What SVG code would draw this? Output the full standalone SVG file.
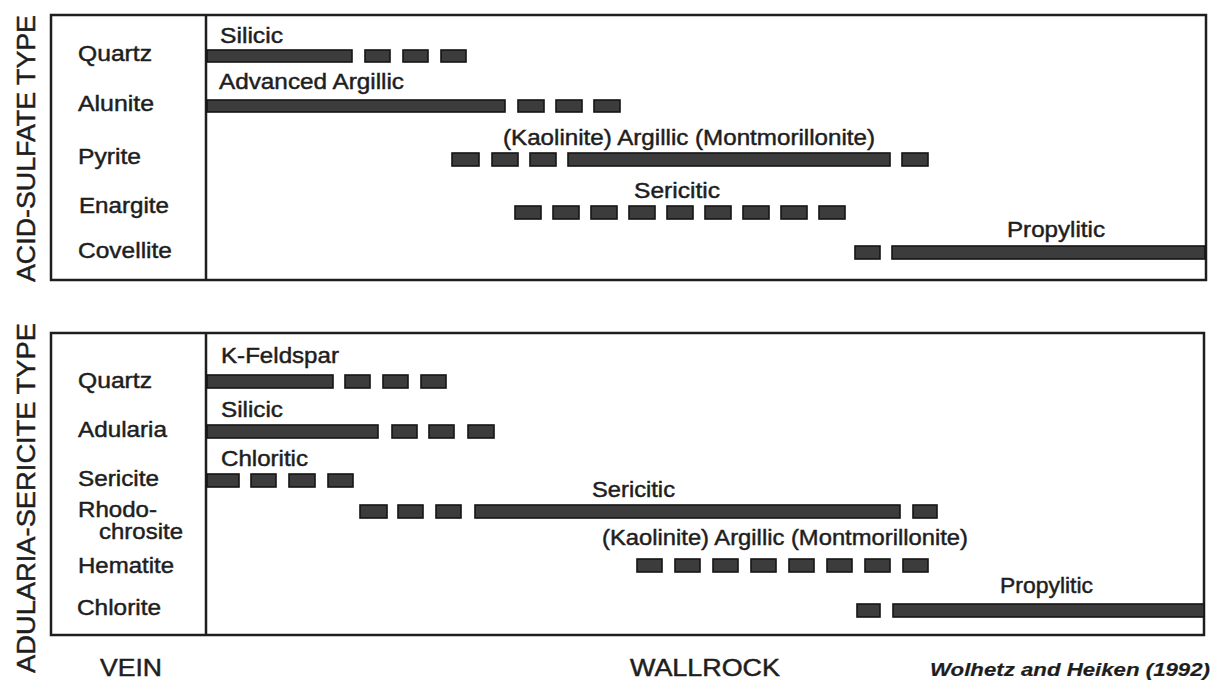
<svg xmlns="http://www.w3.org/2000/svg" width="1213" height="680" viewBox="0 0 1213 680">
<style>
  text{font-family:"Liberation Sans",Arial,sans-serif;fill:#1e1e1e;stroke:#1e1e1e;stroke-width:0.45;}
  .lab{font-size:21.5px;}
  .ax{font-size:25px;}
  .foot{font-size:23px;}
  .cite{font-size:19px;font-weight:bold;font-style:italic;stroke-width:0.2;}
  .frame{fill:none;stroke:#1e1e1e;stroke-width:2.5;}
  .div{stroke:#1e1e1e;stroke-width:2.5;}
  .bar{fill:#3c3c3c;stroke:#141414;stroke-width:1.6;}
</style>
<rect width="1213" height="680" fill="#ffffff"/>

<g id="axis-labels">
  <text class="ax" transform="translate(35,148.5) rotate(-90)" text-anchor="middle" textLength="267" lengthAdjust="spacingAndGlyphs">ACID-SULFATE TYPE</text>
  <text class="ax" transform="translate(35,498) rotate(-90)" text-anchor="middle" textLength="350" lengthAdjust="spacingAndGlyphs">ADULARIA-SERICITE TYPE</text>
</g>

<g id="panel-acid-sulfate">
  <rect class="frame" x="51" y="15" width="1155" height="265"/>
  <line class="div" x1="206" y1="15" x2="206" y2="280"/>
  <g id="as-labels">
    <text class="lab" x="78" y="61" textLength="74" lengthAdjust="spacingAndGlyphs">Quartz</text>
    <text class="lab" x="78" y="111" textLength="76" lengthAdjust="spacingAndGlyphs">Alunite</text>
    <text class="lab" x="78" y="164" textLength="63" lengthAdjust="spacingAndGlyphs">Pyrite</text>
    <text class="lab" x="79" y="213" textLength="90" lengthAdjust="spacingAndGlyphs">Enargite</text>
    <text class="lab" x="78" y="258" textLength="94" lengthAdjust="spacingAndGlyphs">Covellite</text>
  </g>
  <g id="as-silicic">
    <text class="lab" x="220" y="43" textLength="63" lengthAdjust="spacingAndGlyphs">Silicic</text>
    <rect class="bar" x="207" y="50" width="145" height="12"/>
    <rect class="bar" x="365" y="50" width="25" height="12"/>
    <rect class="bar" x="403" y="50" width="25" height="12"/>
    <rect class="bar" x="441" y="50" width="25" height="12"/>
  </g>
  <g id="as-advanced-argillic">
    <text class="lab" x="219" y="89" textLength="185" lengthAdjust="spacingAndGlyphs">Advanced Argillic</text>
    <rect class="bar" x="207" y="100" width="298" height="12"/>
    <rect class="bar" x="518" y="100" width="26" height="12"/>
    <rect class="bar" x="556" y="100" width="26" height="12"/>
    <rect class="bar" x="594" y="100" width="26" height="12"/>
  </g>
  <g id="as-argillic">
    <text class="lab" x="503" y="145" textLength="372" lengthAdjust="spacingAndGlyphs">(Kaolinite) Argillic (Montmorillonite)</text>
    <rect class="bar" x="452" y="153" width="27" height="13"/>
    <rect class="bar" x="492" y="153" width="26" height="13"/>
    <rect class="bar" x="530" y="153" width="26" height="13"/>
    <rect class="bar" x="568" y="153" width="322" height="13"/>
    <rect class="bar" x="902" y="153" width="26" height="13"/>
  </g>
  <g id="as-sericitic">
    <text class="lab" x="634" y="198" textLength="86" lengthAdjust="spacingAndGlyphs">Sericitic</text>
    <rect class="bar" x="515" y="206" width="26" height="13"/>
    <rect class="bar" x="553" y="206" width="26" height="13"/>
    <rect class="bar" x="591" y="206" width="26" height="13"/>
    <rect class="bar" x="629" y="206" width="26" height="13"/>
    <rect class="bar" x="667" y="206" width="26" height="13"/>
    <rect class="bar" x="705" y="206" width="26" height="13"/>
    <rect class="bar" x="743" y="206" width="26" height="13"/>
    <rect class="bar" x="781" y="206" width="26" height="13"/>
    <rect class="bar" x="819" y="206" width="26" height="13"/>
  </g>
  <g id="as-propylitic">
    <text class="lab" x="1007" y="237" textLength="98" lengthAdjust="spacingAndGlyphs">Propylitic</text>
    <rect class="bar" x="855" y="246" width="25" height="13"/>
    <rect class="bar" x="892" y="246" width="313" height="13"/>
  </g>
</g>

<g id="panel-adularia-sericite">
  <rect class="frame" x="51" y="333" width="1153" height="302"/>
  <line class="div" x1="206" y1="333" x2="206" y2="635"/>
  <g id="ads-labels">
    <text class="lab" x="78" y="388" textLength="74" lengthAdjust="spacingAndGlyphs">Quartz</text>
    <text class="lab" x="78" y="437" textLength="89" lengthAdjust="spacingAndGlyphs">Adularia</text>
    <text class="lab" x="78" y="486" textLength="81" lengthAdjust="spacingAndGlyphs">Sericite</text>
    <text class="lab" x="78" y="517" textLength="79" lengthAdjust="spacingAndGlyphs">Rhodo-</text>
    <text class="lab" x="99" y="539" textLength="84" lengthAdjust="spacingAndGlyphs">chrosite</text>
    <text class="lab" x="78" y="573" textLength="96" lengthAdjust="spacingAndGlyphs">Hematite</text>
    <text class="lab" x="77" y="615" textLength="84" lengthAdjust="spacingAndGlyphs">Chlorite</text>
  </g>
  <g id="ads-kfeldspar">
    <text class="lab" x="221" y="363" textLength="118" lengthAdjust="spacingAndGlyphs">K-Feldspar</text>
    <rect class="bar" x="207" y="375" width="126" height="13"/>
    <rect class="bar" x="345" y="375" width="25" height="13"/>
    <rect class="bar" x="383" y="375" width="25" height="13"/>
    <rect class="bar" x="421" y="375" width="25" height="13"/>
  </g>
  <g id="ads-silicic">
    <text class="lab" x="221" y="417" textLength="62" lengthAdjust="spacingAndGlyphs">Silicic</text>
    <rect class="bar" x="207" y="425" width="171" height="13"/>
    <rect class="bar" x="392" y="425" width="25" height="13"/>
    <rect class="bar" x="429" y="425" width="25" height="13"/>
    <rect class="bar" x="468" y="425" width="26" height="13"/>
  </g>
  <g id="ads-chloritic">
    <text class="lab" x="221" y="466" textLength="87" lengthAdjust="spacingAndGlyphs">Chloritic</text>
    <rect class="bar" x="207" y="474" width="32" height="13"/>
    <rect class="bar" x="251" y="474" width="25" height="13"/>
    <rect class="bar" x="289" y="474" width="26" height="13"/>
    <rect class="bar" x="328" y="474" width="25" height="13"/>
  </g>
  <g id="ads-sericitic">
    <text class="lab" x="592" y="497" textLength="83" lengthAdjust="spacingAndGlyphs">Sericitic</text>
    <rect class="bar" x="360" y="505" width="27" height="13"/>
    <rect class="bar" x="398" y="505" width="25" height="13"/>
    <rect class="bar" x="436" y="505" width="25" height="13"/>
    <rect class="bar" x="475" y="505" width="425" height="13"/>
    <rect class="bar" x="913" y="505" width="24" height="13"/>
  </g>
  <g id="ads-argillic">
    <text class="lab" x="602" y="545" textLength="366" lengthAdjust="spacingAndGlyphs">(Kaolinite) Argillic (Montmorillonite)</text>
    <rect class="bar" x="637" y="559" width="25" height="13"/>
    <rect class="bar" x="675" y="559" width="25" height="13"/>
    <rect class="bar" x="713" y="559" width="25" height="13"/>
    <rect class="bar" x="751" y="559" width="25" height="13"/>
    <rect class="bar" x="789" y="559" width="25" height="13"/>
    <rect class="bar" x="827" y="559" width="25" height="13"/>
    <rect class="bar" x="865" y="559" width="25" height="13"/>
    <rect class="bar" x="903" y="559" width="25" height="13"/>
  </g>
  <g id="ads-propylitic">
    <text class="lab" x="1000" y="593" textLength="93" lengthAdjust="spacingAndGlyphs">Propylitic</text>
    <rect class="bar" x="857" y="604" width="23" height="13"/>
    <rect class="bar" x="893" y="604" width="311" height="13"/>
  </g>
</g>

<g id="footer">
  <text class="foot" x="100" y="676" textLength="62" lengthAdjust="spacingAndGlyphs">VEIN</text>
  <text class="foot" x="630" y="676" textLength="150" lengthAdjust="spacingAndGlyphs">WALLROCK</text>
  <text class="cite" x="930" y="676" textLength="280" lengthAdjust="spacingAndGlyphs">Wolhetz and Heiken (1992)</text>
</g>
</svg>
